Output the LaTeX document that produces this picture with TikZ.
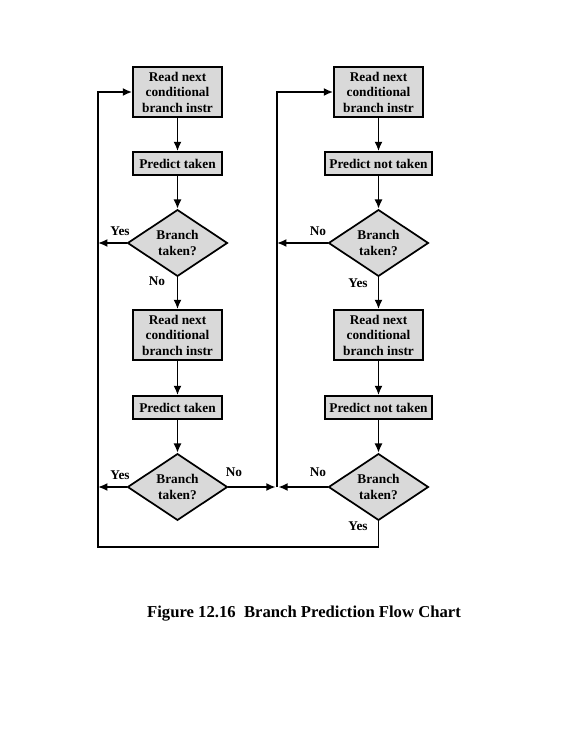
\documentclass[tikz,border=0pt]{standalone}
\usepackage{fontspec}
\setmainfont{Liberation Serif}
\usetikzlibrary{shapes.geometric,arrows.meta}

\begin{document}
\begin{tikzpicture}[x=0.75pt,y=0.75pt,yscale=-1,xscale=1,
  flowbox/.style={draw,line width=1.3pt,fill=black!15,inner sep=0pt,align=center,
    font=\fontsize{10}{11.6}\selectfont\bfseries},
  readbox/.style={flowbox,minimum width=66.75pt,minimum height=37.5pt},
  predbox/.style={flowbox,minimum height=17.25pt},
  testbox/.style={flowbox,diamond,aspect=1.5,minimum width=75pt,minimum height=50pt},
  flowarrow/.style={line width=1.3pt,-{Latex[length=7pt,width=6pt]}},
  answer/.style={inner sep=0.75pt,font=\fontsize{10}{12}\selectfont\bfseries}]
\useasboundingbox (0,0) rectangle (569,737);

% Left column
\draw (177.5,92) node [readbox] (lread1) {Read next\\conditional\\branch instr};
\draw (177.5,163.5) node [predbox,minimum width=66.75pt] (lpred1) {Predict taken};
\draw (177.5,243) node [testbox] (ltest1) {Branch\\taken?};
\draw (177.5,335) node [readbox] (lread2) {Read next\\conditional\\branch instr};
\draw (177.5,407.5) node [predbox,minimum width=66.75pt] (lpred2) {Predict taken};
\draw (177.5,487) node [testbox] (ltest2) {Branch\\taken?};

% Right column
\draw (378.5,92) node [readbox] (rread1) {Read next\\conditional\\branch instr};
\draw (378.5,163.5) node [predbox,minimum width=80.25pt] (rpred1) {Predict not taken};
\draw (378.5,243) node [testbox] (rtest1) {Branch\\taken?};
\draw (378.5,335) node [readbox] (rread2) {Read next\\conditional\\branch instr};
\draw (378.5,407.5) node [predbox,minimum width=80.25pt] (rpred2) {Predict not taken};
\draw (378.5,487) node [testbox] (rtest2) {Branch\\taken?};

% Corner points
\coordinate (lleft1) at (98,243);
\coordinate (lleft2) at (98,487);
\coordinate (ltop) at (98,92);
\coordinate (lbottom) at (98,547);
\coordinate (rbottom) at (378.5,547);
\coordinate (rleft1) at (277,243);
\coordinate (rjoin) at (277,487);
\coordinate (rtop) at (277,92);

% Straight Lines
\draw [flowarrow] (lread1) -- (lpred1);
\draw [flowarrow] (lpred1) -- (ltest1);
\draw [flowarrow] (ltest1) -- (lread2);
\draw [flowarrow] (lread2) -- (lpred2);
\draw [flowarrow] (lpred2) -- (ltest2);
\draw [flowarrow] (rread1) -- (rpred1);
\draw [flowarrow] (rpred1) -- (rtest1);
\draw [flowarrow] (rtest1) -- (rread2);
\draw [flowarrow] (rread2) -- (rpred2);
\draw [flowarrow] (rpred2) -- (rtest2);

\draw [flowarrow] (ltest1.west) -- (lleft1);
\draw [flowarrow] (ltest2.west) -- (lleft2);
\draw [flowarrow] (ltest2.east) -- ([xshift=-1pt]rjoin);
\draw [flowarrow] (rtest1.west) -- (rleft1);
\draw [flowarrow] (rtest2.west) -- ([xshift=1pt]rjoin);
\draw [flowarrow] (rjoin) -- (rtop) -- (rread1.west);
\draw [flowarrow] (rtest2.south) -- (rbottom) -- (lbottom) -- (ltop) -- (lread1.west);

% Text Node
\draw (120,231) node [answer] (lyes1) {Yes};
\draw (157,281) node [answer] (lno1) {No};
\draw (120,475) node [answer] (lyes2) {Yes};
\draw (234,472) node [answer] (lno2) {No};
\draw (318,231) node [answer] (rno1) {No};
\draw (358,283) node [answer] (ryes1) {Yes};
\draw (318,472) node [answer] (rno2) {No};
\draw (358,526) node [answer] (ryes2) {Yes};

% Caption
\draw (304,614) node [font=\fontsize{12.5}{15}\selectfont\bfseries] (caption) {Figure 12.16\ \ Branch Prediction Flow Chart};

\end{tikzpicture}
\end{document}
